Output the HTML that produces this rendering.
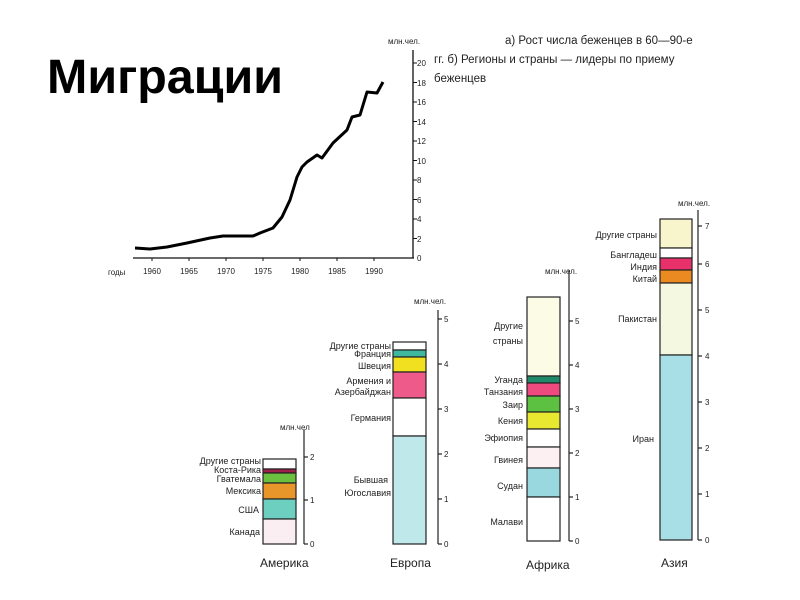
<!DOCTYPE html>
<html><head><meta charset="utf-8"><style>
html,body{margin:0;padding:0;background:#fff;}
svg{display:block;font-family:"Liberation Sans","DejaVu Sans",sans-serif;}
.s{font-size:9px;fill:#222;}
.t{font-size:8px;fill:#222;}
.r{font-size:12px;fill:#222;}
</style></head><body>
<svg width="800" height="600" viewBox="0 0 800 600" xmlns="http://www.w3.org/2000/svg">
<text x="47" y="93" font-size="48" font-weight="bold" fill="#000" textLength="236" lengthAdjust="spacingAndGlyphs">Миграции</text>
<g font-size="11.5" fill="#222">
<text x="505" y="44">а) Рост числа беженцев в 60—90-е</text>
<text x="434" y="63">гг. б) Регионы и страны — лидеры по приему</text>
<text x="434" y="82">беженцев</text>
</g>
<g stroke="#111" stroke-width="1.3" fill="none">
<line x1="133" y1="258" x2="414" y2="258"/>
<line x1="413" y1="50" x2="413" y2="258"/>
</g>
<g stroke="#111" stroke-width="1">
<line x1="413" y1="63" x2="417" y2="63"/><line x1="413" y1="82.5" x2="417" y2="82.5"/><line x1="413" y1="102" x2="417" y2="102"/><line x1="413" y1="121.5" x2="417" y2="121.5"/><line x1="413" y1="141" x2="417" y2="141"/><line x1="413" y1="160.5" x2="417" y2="160.5"/><line x1="413" y1="180" x2="417" y2="180"/><line x1="413" y1="199.5" x2="417" y2="199.5"/><line x1="413" y1="219" x2="417" y2="219"/><line x1="413" y1="238.5" x2="417" y2="238.5"/>
<line x1="152" y1="258" x2="152" y2="261"/><line x1="189" y1="258" x2="189" y2="261"/><line x1="226" y1="258" x2="226" y2="261"/><line x1="263" y1="258" x2="263" y2="261"/><line x1="300" y1="258" x2="300" y2="261"/><line x1="337" y1="258" x2="337" y2="261"/><line x1="374" y1="258" x2="374" y2="261"/>
</g>
<g class="t">
<text x="417" y="66">20</text><text x="417" y="86">18</text><text x="417" y="105">16</text><text x="417" y="125">14</text><text x="417" y="144">12</text><text x="417" y="164">10</text><text x="417" y="183">8</text><text x="417" y="203">6</text><text x="417" y="222">4</text><text x="417" y="242">2</text><text x="417" y="261">0</text>
<text x="388" y="44">млн.чел.</text>
<text x="108" y="275">годы</text>
<g text-anchor="middle"><text x="152" y="274">1960</text><text x="189" y="274">1965</text><text x="226" y="274">1970</text><text x="263" y="274">1975</text><text x="300" y="274">1980</text><text x="337" y="274">1985</text><text x="374" y="274">1990</text></g>
</g>
<polyline fill="none" stroke="#000" stroke-width="3" stroke-linejoin="round" points="135,248 150,249 167,247 187,243 210,238 223,236 253,236 260,233 273,228 282,217 290,200 297,177 302,167 307,162 317,155 322,158 333,143 347,130 352,117 360,115 367,92 377,93 383,82"/>

<g stroke="#222" stroke-width="1.2">
<rect x="263" y="459" width="33" height="10" fill="#fff"/>
<rect x="263" y="469" width="33" height="4" fill="#a0204a"/>
<rect x="263" y="473" width="33" height="10" fill="#6cc040"/>
<rect x="263" y="483" width="33" height="16" fill="#e8952a"/>
<rect x="263" y="499" width="33" height="20" fill="#6ccfc0"/>
<rect x="263" y="519" width="33" height="25" fill="#fbeef2"/>
<line x1="304" y1="430" x2="304" y2="544"/>
<line x1="304" y1="544" x2="308" y2="544"/><line x1="304" y1="500" x2="308" y2="500"/><line x1="304" y1="457" x2="308" y2="457"/>
</g>
<g class="t"><text x="310" y="547">0</text><text x="310" y="503">1</text><text x="310" y="460">2</text><text x="280" y="430">млн.чел</text></g>
<g class="s" text-anchor="end">
<text x="261" y="464">Другие страны</text><text x="261" y="473">Коста-Рика</text><text x="261" y="482">Гватемала</text><text x="261" y="494">Мексика</text><text x="259" y="513">США</text><text x="260" y="535">Канада</text>
</g>
<text x="260" y="567" class="r">Америка</text>

<g stroke="#222" stroke-width="1.2">
<rect x="393" y="342" width="33" height="8" fill="#fff"/>
<rect x="393" y="350" width="33" height="7" fill="#40b8a0"/>
<rect x="393" y="357" width="33" height="15" fill="#f0e020"/>
<rect x="393" y="372" width="33" height="26" fill="#ee5a8a"/>
<rect x="393" y="398" width="33" height="38" fill="#fff"/>
<rect x="393" y="436" width="33" height="108" fill="#bfe8ea"/>
<line x1="438" y1="310" x2="438" y2="544"/>
<line x1="438" y1="544" x2="442" y2="544"/><line x1="438" y1="499" x2="442" y2="499"/><line x1="438" y1="454" x2="442" y2="454"/><line x1="438" y1="409" x2="442" y2="409"/><line x1="438" y1="364" x2="442" y2="364"/><line x1="438" y1="319" x2="442" y2="319"/>
</g>
<g class="t"><text x="444" y="547">0</text><text x="444" y="502">1</text><text x="444" y="457">2</text><text x="444" y="412">3</text><text x="444" y="367">4</text><text x="444" y="322">5</text><text x="414" y="304">млн.чел.</text></g>
<g class="s" text-anchor="end">
<text x="391" y="349">Другие страны</text><text x="391" y="357">Франция</text><text x="391" y="369">Швеция</text><text x="391" y="384">Армения и</text><text x="391" y="395">Азербайджан</text><text x="391" y="421">Германия</text><text x="388" y="483">Бывшая</text><text x="391" y="496">Югославия</text>
</g>
<text x="390" y="567" class="r">Европа</text>

<g stroke="#222" stroke-width="1.2">
<rect x="527" y="297" width="33" height="79" fill="#fbfbe6"/>
<rect x="527" y="376" width="33" height="7" fill="#1f8a6a"/>
<rect x="527" y="383" width="33" height="13" fill="#ee4a80"/>
<rect x="527" y="396" width="33" height="16" fill="#5cc040"/>
<rect x="527" y="412" width="33" height="17" fill="#e8e830"/>
<rect x="527" y="429" width="33" height="18" fill="#fff"/>
<rect x="527" y="447" width="33" height="21" fill="#fcf0f3"/>
<rect x="527" y="468" width="33" height="29" fill="#9ad8e0"/>
<rect x="527" y="497" width="33" height="44" fill="#fff"/>
<line x1="569" y1="270" x2="569" y2="541"/>
<line x1="569" y1="541" x2="573" y2="541"/><line x1="569" y1="497" x2="573" y2="497"/><line x1="569" y1="453" x2="573" y2="453"/><line x1="569" y1="409" x2="573" y2="409"/><line x1="569" y1="365" x2="573" y2="365"/><line x1="569" y1="321" x2="573" y2="321"/>
</g>
<g class="t"><text x="575" y="544">0</text><text x="575" y="500">1</text><text x="575" y="456">2</text><text x="575" y="412">3</text><text x="575" y="368">4</text><text x="575" y="324">5</text><text x="545" y="274">млн.чел.</text></g>
<g class="s" text-anchor="end">
<text x="523" y="329">Другие</text><text x="523" y="344">страны</text><text x="523" y="383">Уганда</text><text x="523" y="395">Танзания</text><text x="523" y="408">Заир</text><text x="523" y="424">Кения</text><text x="523" y="441">Эфиопия</text><text x="523" y="463">Гвинея</text><text x="523" y="489">Судан</text><text x="523" y="525">Малави</text>
</g>
<text x="526" y="569" class="r">Африка</text>

<g stroke="#222" stroke-width="1.2">
<rect x="660" y="219" width="32" height="29" fill="#f8f4cc"/>
<rect x="660" y="248" width="32" height="10" fill="#fff"/>
<rect x="660" y="258" width="32" height="12" fill="#e8306a"/>
<rect x="660" y="270" width="32" height="13" fill="#eb8a20"/>
<rect x="660" y="283" width="32" height="72" fill="#f4f8e0"/>
<rect x="660" y="355" width="32" height="185" fill="#a8dfe6"/>
<line x1="698" y1="210" x2="698" y2="540"/>
<line x1="698" y1="540" x2="702" y2="540"/><line x1="698" y1="494" x2="702" y2="494"/><line x1="698" y1="448" x2="702" y2="448"/><line x1="698" y1="402" x2="702" y2="402"/><line x1="698" y1="356" x2="702" y2="356"/><line x1="698" y1="310" x2="702" y2="310"/><line x1="698" y1="264" x2="702" y2="264"/><line x1="698" y1="226" x2="702" y2="226"/>
</g>
<g class="t"><text x="705" y="543">0</text><text x="705" y="497">1</text><text x="705" y="451">2</text><text x="705" y="405">3</text><text x="705" y="359">4</text><text x="705" y="313">5</text><text x="705" y="267">6</text><text x="705" y="229">7</text><text x="678" y="206">млн.чел.</text></g>
<g class="s" text-anchor="end">
<text x="657" y="238">Другие страны</text><text x="657" y="258">Бангладеш</text><text x="657" y="270">Индия</text><text x="657" y="282">Китай</text><text x="657" y="322">Пакистан</text><text x="654" y="442">Иран</text>
</g>
<text x="661" y="567" class="r">Азия</text>
</svg>
</body></html>
